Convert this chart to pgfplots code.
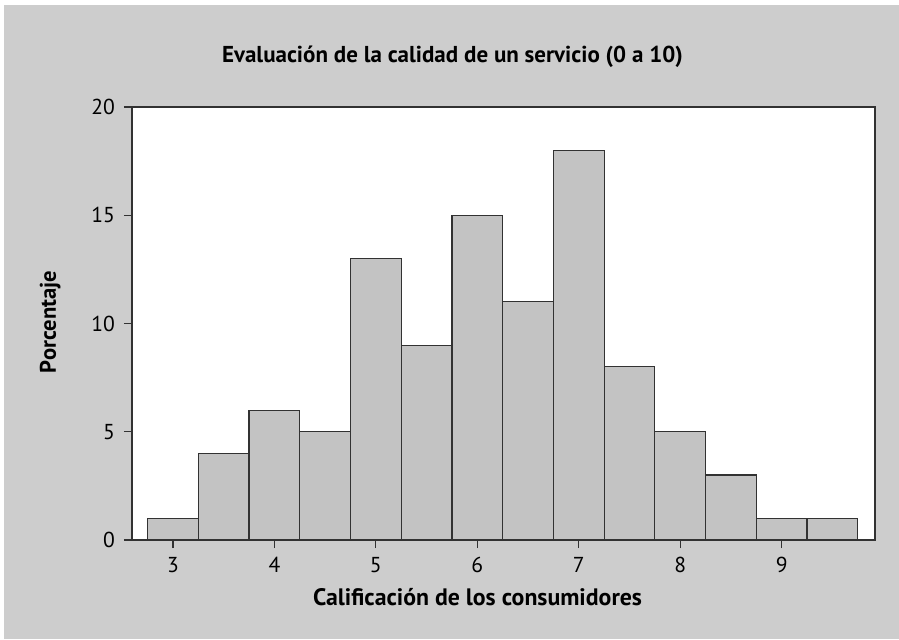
\documentclass[border=0pt]{standalone}
\usepackage{pgfplots}
\pgfplotsset{compat=1.18}
\usepackage{fontspec}
\setmainfont{PT Sans}
\definecolor{bgpanel}{RGB}{205,205,205}
\definecolor{barfill}{RGB}{195,195,195}
\definecolor{frame}{RGB}{50,50,50}

\begin{document}
\begin{tikzpicture}
% page: 899x639 px at 0.5pt per px; axis SW corner at px (132,540)
\path[use as bounding box] (-66pt,-49.5pt) rectangle (383.5pt,270pt);
\fill[bgpanel] (-64pt,-49.5pt) rectangle (383.5pt,267.5pt);
\begin{axis}[
  at={(0pt,0pt)}, anchor=south west,
  scale only axis, width=371.5pt, height=216.5pt,
  xmin=2.596, xmax=9.92, ymin=0, ymax=20,
  xtick={3,4,...,9}, ytick={0,5,10,15,20},
  tick align=outside, major tick length=4pt,
  xtick pos=bottom, ytick pos=left,
  axis line style={frame, line width=0.7pt},
  tick style={frame, line width=0.6pt},
  axis background/.style={fill=white},
  tick label style={font=\fontsize{10.8}{12}\selectfont},
  /pgf/number format/assume math mode=true,
  xticklabel style={yshift=-1pt},
  yticklabel style={xshift=-1pt},
  clip=false,
]
\addplot[ybar interval, fill=barfill, draw=frame, line width=0.6pt]
  coordinates {(2.75,1) (3.25,4) (3.75,6) (4.25,5) (4.75,13) (5.25,9)
               (5.75,15) (6.25,11) (6.75,18) (7.25,8) (7.75,5) (8.25,3)
               (8.75,1) (9.25,1) (9.75,1)};
\end{axis}
\node[font=\bfseries\fontsize{11.5}{13}\selectfont, anchor=base]
  at (160.25pt,239pt) {Evaluación de la calidad de un servicio (0 a 10)};
\node[font=\bfseries\fontsize{11.9}{14}\selectfont, anchor=base]
  at (172.75pt,-32.5pt) {Calificación de los consumidores};
\node[font=\bfseries\fontsize{11.3}{13}\selectfont, anchor=base, rotate=90]
  at (-38pt,109pt) {Porcentaje};
\end{tikzpicture}
\end{document}
